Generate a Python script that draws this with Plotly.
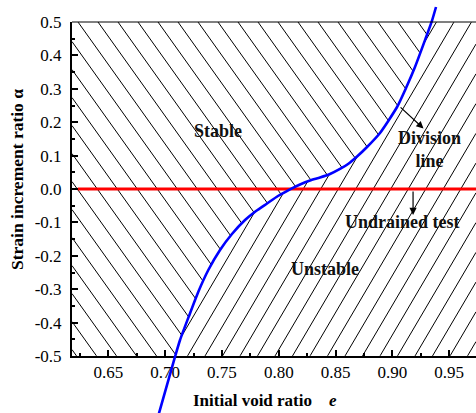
import numpy as np
import plotly.graph_objects as go

# ---------------- data ----------------
# Division line (initial void ratio e vs strain increment ratio alpha)
e_curve = [0.6928, 0.6946, 0.7087, 0.7131, 0.7210, 0.7292, 0.7380, 0.7483,
           0.7588, 0.7703, 0.7800, 0.7897, 0.7993, 0.8099, 0.8187, 0.8275,
           0.8363, 0.8451, 0.8539, 0.8610, 0.8689, 0.8777, 0.8891, 0.9041,
           0.9120, 0.9199, 0.9293, 0.9346, 0.9384]
alpha_curve = [-0.692, -0.671, -0.502, -0.452, -0.380, -0.3075, -0.2425, -0.1826,
               -0.1347, -0.0928, -0.0659, -0.0434, -0.0210, -0.001, 0.0135, 0.0254,
               0.0344, 0.0449, 0.0599, 0.0749, 0.0973, 0.1257, 0.1677, 0.2455,
               0.3024, 0.3653, 0.4512, 0.5009, 0.5449]

# Undrained test line (alpha = 0)
e_undrained = [0.623, 0.975]
alpha_undrained = [0.0, 0.0]

x_ticks = [0.65, 0.70, 0.75, 0.80, 0.85, 0.90, 0.95]
x_ticktext = ["0.65", "0.70", "0.75", "0.80", "0.85", "0.90", "0.95"]
y_ticks = [-0.5, -0.4, -0.3, -0.2, -0.1, 0.0, 0.1, 0.2, 0.3, 0.4, 0.5]
y_ticktext = ["-0.5", "-0.4", "-0.3", "-0.2", "-0.1", "0.0", "0.1", "0.2", "0.3", "0.4", "0.5"]

x_range = [0.618, 0.9736]
y_range = [-0.5, 0.5]

# ---------------- layout geometry ----------------
W, H = 476, 413
L_px, R_px, T_px, B_px = 72, 476, 22, 356
xdom = [L_px / W, R_px / W]
ydom = [1 - B_px / H, 1 - T_px / H]
sx = (R_px - L_px) / (x_range[1] - x_range[0])   # px per unit e
sy = (B_px - T_px) / (y_range[1] - y_range[0])   # px per unit alpha


def ext(r, d):
    span = (r[1] - r[0]) / (d[1] - d[0])
    return [r[0] - d[0] * span, r[0] + (1 - d[0]) * span]


FONT = "Liberation Serif"

# ---------------- hatch generation (decoration) ----------------
def boundary_e(a):
    return np.interp(a, alpha_curve, e_curve)


def hatch(slope_px, dx_px, ref_alpha, ref_px, side):
    k = slope_px * sx / sy            # data slope d(alpha)/d(e)
    dx = dx_px / sx
    e_ref = x_range[0] + (ref_px - L_px) / sx
    span = (y_range[1] - y_range[0]) / abs(k)
    n0 = int(np.floor((x_range[0] - span - e_ref) / dx)) - 1
    n1 = int(np.ceil((x_range[1] + span - e_ref) / dx)) + 1
    ee = np.linspace(x_range[0], x_range[1], 2500)
    xs, ys = [], []
    for n in range(n0, n1 + 1):
        en = e_ref + n * dx
        aa = ref_alpha + k * (ee - en)
        inside = (aa >= y_range[0]) & (aa <= y_range[1])
        b = boundary_e(aa)
        if side == "stable":
            inside &= ee <= b
        else:
            inside &= ee >= b
        if not inside.any():
            continue
        idx = np.where(inside)[0]
        breaks = np.where(np.diff(idx) > 1)[0]
        starts = np.concatenate(([idx[0]], idx[breaks + 1]))
        ends = np.concatenate((idx[breaks], [idx[-1]]))
        for s, t in zip(starts, ends):
            if t - s < 2:
                continue
            xs += [ee[s], ee[t], None]
            ys += [aa[s], aa[t], None]
    return xs, ys


hx1, hy1 = hatch(-1.4, 20.0, y_range[1], 78, "stable")
hx2, hy2 = hatch(1.7, 17.5, y_range[0], 205, "unstable")

fig = go.Figure()
fig.add_trace(go.Scatter(x=hx1, y=hy1, mode="lines",
                         line=dict(color="black", width=1), hoverinfo="skip",
                         showlegend=False, xaxis="x", yaxis="y"))
fig.add_trace(go.Scatter(x=hx2, y=hy2, mode="lines",
                         line=dict(color="black", width=1), hoverinfo="skip",
                         showlegend=False, xaxis="x", yaxis="y"))
fig.add_trace(go.Scatter(x=e_undrained, y=alpha_undrained, mode="lines",
                         line=dict(color="#ff0000", width=3),
                         showlegend=False, xaxis="x", yaxis="y"))
# division line drawn on a full-figure subplot so it can run past the frame
fig.add_trace(go.Scatter(x=e_curve, y=alpha_curve, mode="lines",
                         line=dict(color="#0000ff", width=2.6, shape="spline", smoothing=0.6),
                         showlegend=False, xaxis="x2", yaxis="y2"))

tickfont = dict(family=FONT, size=17, color="black")
fig.update_layout(
    width=W, height=H,
    margin=dict(l=0, r=0, t=0, b=0),
    paper_bgcolor="white",
    plot_bgcolor="rgba(0,0,0,0)",
    template="none",
    showlegend=False,
    xaxis=dict(domain=xdom, range=x_range, showgrid=False, zeroline=False,
               showline=True, linewidth=2, linecolor="black", mirror=False,
               ticks="inside", ticklen=6, tickwidth=1.5, tickcolor="black",
               tickmode="array", tickvals=x_ticks, ticktext=x_ticktext,
               tickfont=tickfont, automargin=False, anchor="y",
               minor=dict(ticks="inside", ticklen=3, tickwidth=1.5, tickcolor="black",
                          tickmode="linear", tick0=0.625, dtick=0.05)),
    yaxis=dict(domain=ydom, range=y_range, showgrid=False, zeroline=False,
               showline=True, linewidth=2, linecolor="black", mirror=False,
               ticks="inside", ticklen=6, tickwidth=1.5, tickcolor="black",
               tickmode="array", tickvals=y_ticks, ticktext=y_ticktext,
               tickfont=tickfont, automargin=False, anchor="x",
               ticklabelstandoff=5,
               minor=dict(ticks="inside", ticklen=3, tickwidth=1.5, tickcolor="black",
                          tickmode="linear", tick0=0.05, dtick=0.1)),
    xaxis2=dict(domain=[0, 1], range=ext(x_range, xdom), visible=False,
                fixedrange=True, anchor="y2"),
    yaxis2=dict(domain=[0, 1], range=ext(y_range, ydom), visible=False,
                fixedrange=True, anchor="x2"),
)

# top frame line
fig.add_shape(type="line", xref="paper", yref="paper",
              x0=xdom[0], x1=1.0, y0=ydom[1], y1=ydom[1],
              line=dict(color="black", width=1))

afont = dict(family=FONT, size=18, color="#111111")
fig.add_annotation(x=0.7465, y=0.174, xref="x", yref="y", text="<b>Stable</b>",
                   showarrow=False, font=afont)
fig.add_annotation(x=0.8407, y=-0.2395, xref="x", yref="y", text="<b>Unstable</b>",
                   showarrow=False, font=afont)
fig.add_annotation(x=0.9331, y=0.118, xref="x", yref="y", text="<b>Division<br>line</b>",
                   showarrow=False, font=afont)
fig.add_annotation(x=0.9085, y=-0.0988, xref="x", yref="y", text="<b>Undrained test</b>",
                   showarrow=False, font=afont)
# arrows
fig.add_annotation(x=0.9274, y=0.181, ax=0.9059, ay=0.2485, xref="x", yref="y",
                   axref="x", ayref="y", text="", showarrow=True,
                   arrowhead=2, arrowsize=1.2, arrowwidth=1.2, arrowcolor="black")
fig.add_annotation(x=0.9182, y=-0.078, ax=0.9182, ay=-0.003, xref="x", yref="y",
                   axref="x", ayref="y", text="", showarrow=True,
                   arrowhead=2, arrowsize=1.2, arrowwidth=1.2, arrowcolor="black")

# axis titles
fig.add_annotation(x=265 / W, y=1 - 400 / H, xref="paper", yref="paper",
                   xanchor="center", yanchor="middle",
                   text="<b>Initial void ratio\u00a0\u00a0\u00a0\u00a0<i>e</i></b>",
                   showarrow=False, font=dict(family=FONT, size=17, color="black"))
fig.add_annotation(x=17 / W, y=1 - 180 / H, xref="paper", yref="paper",
                   xanchor="center", yanchor="middle",
                   text="<b>Strain increment ratio \u03b1</b>", textangle=-90,
                   showarrow=False, font=dict(family=FONT, size=17.5, color="black"))

fig.write_html("out.html")
